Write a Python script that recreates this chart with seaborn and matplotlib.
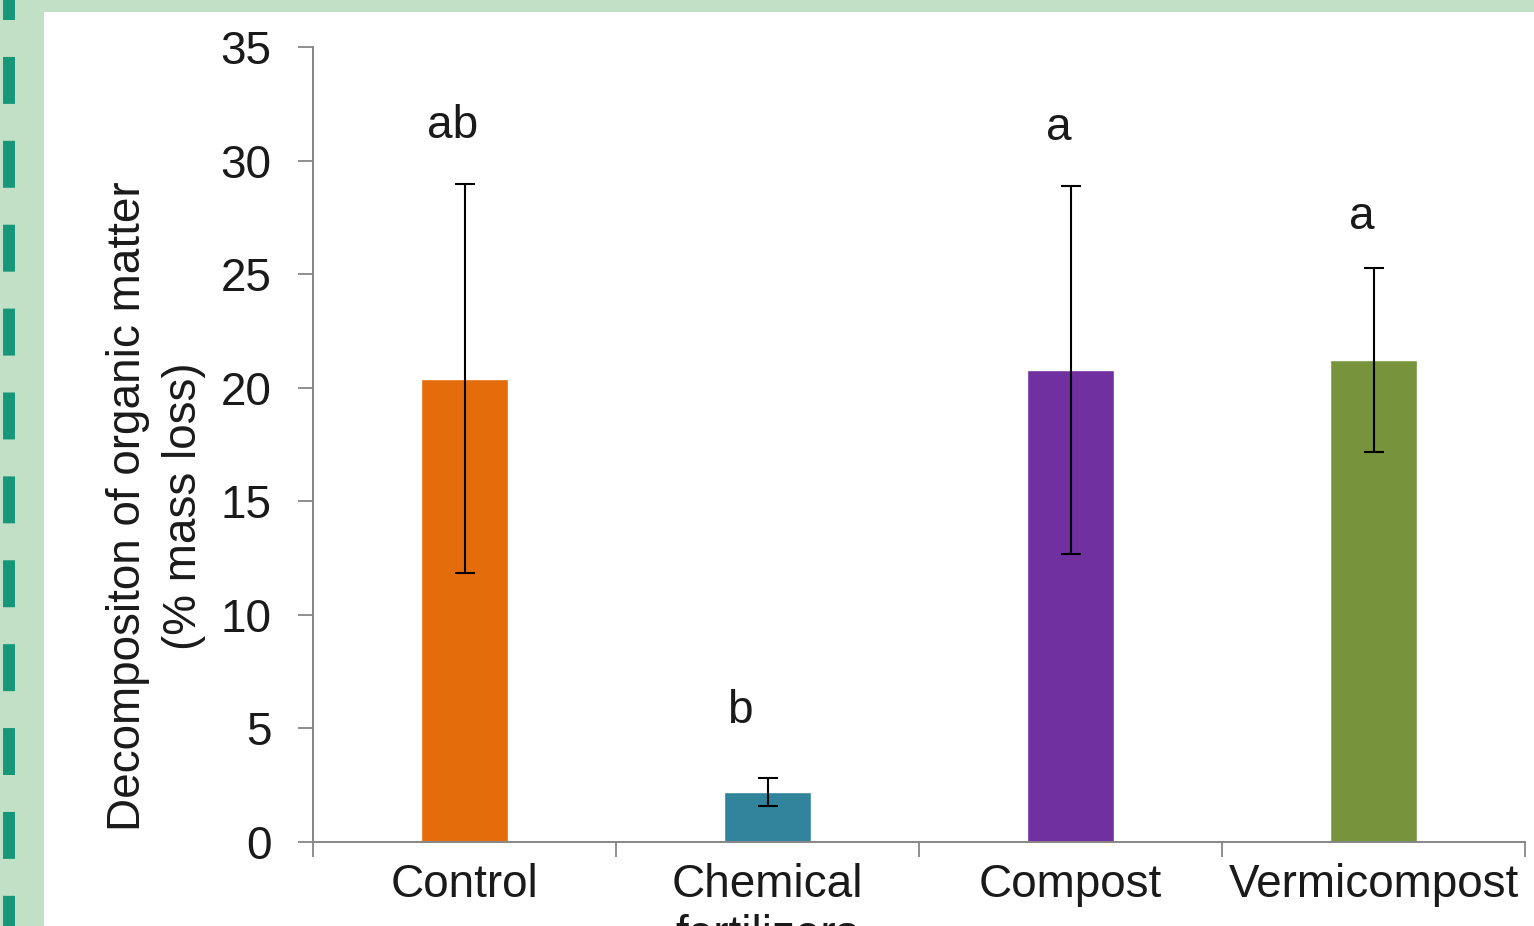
import numpy as np
import pandas as pd
import matplotlib
matplotlib.use("Agg")
import matplotlib.pyplot as plt
import seaborn as sns
from matplotlib.patches import Rectangle
from matplotlib.lines import Line2D

# данные
treatments = ["Control", "Chemical\nfertilizers", "Compost", "Vermicompost"]
mass_loss = [20.4, 2.2, 20.8, 21.2]
errors = [8.55, 0.6, 8.1, 4.05]
letters = ["ab", "b", "a", "a"]
letter_y = [31.0, 5.25, 30.9, 27.0]
letter_dx = [-0.04, -0.09, -0.04, -0.04]
bar_colors = ["#e46c0a", "#31849b", "#7030a0", "#77933c"]

df = pd.DataFrame({"treatment": treatments, "loss": mass_loss})

sns.set_theme(style="white")
plt.rcParams["font.family"] = ["Liberation Sans", "DejaVu Sans"]
plt.rcParams["lines.scale_dashes"] = False
FS = 33

W, H = 1534, 926
fig = plt.figure(figsize=(W / 100, H / 100), dpi=100)
fig.patch.set_facecolor("#c2e0c5")

# белая панель слайда и пунктир слева
fig.patches.append(Rectangle((44 / W, 0), 1 - 44 / W, (H - 12) / H,
                             transform=fig.transFigure, facecolor="white",
                             edgecolor="none", zorder=-10))
fig.lines.append(Line2D([9 / W, 9 / W], [1, 0], transform=fig.transFigure,
                        color="#16977a", linewidth=8.6,
                        linestyle=(19.4, (33.8, 26.6)), solid_capstyle="butt",
                        dash_capstyle="butt", zorder=-5))

ax = fig.add_axes([313 / W, 1 - 842 / H, (1525 - 313) / W, (842 - 47) / H])
ax.set_facecolor("none")

sns.barplot(data=df, x="treatment", y="loss", hue="treatment",
            palette=bar_colors, legend=False, width=0.29, saturation=1,
            ax=ax, zorder=2)
ax.errorbar(range(len(treatments)), mass_loss, yerr=errors, fmt="none",
            ecolor="black", elinewidth=1.5, capsize=7, capthick=1.5, zorder=3)

for i, (lab, yy, dx) in enumerate(zip(letters, letter_y, letter_dx)):
    ax.text(i + dx, yy, lab, ha="center", va="baseline", fontsize=FS,
            color="#1a1a1a")

ax.set_xlim(-0.5, 3.5)
ax.set_ylim(0, 35)
ax.set_yticks(np.arange(0, 36, 5))
ax.tick_params(axis="y", direction="out", length=11, width=1.3,
               color="#868686", labelsize=FS, pad=19, labelcolor="#1a1a1a",
               left=True)
ax.set_xticks(range(len(treatments)))
ax.set_xticklabels(treatments)
ax.set_xticks(np.arange(-0.5, 4, 1), minor=True)
ax.tick_params(axis="x", which="major", length=0, labelsize=FS, pad=15,
               labelcolor="#1a1a1a")
ax.tick_params(axis="x", which="minor", direction="out", length=11,
               width=1.3, color="#868686", bottom=True)

for side in ["top", "right"]:
    ax.spines[side].set_visible(False)
for side in ["left", "bottom"]:
    ax.spines[side].set_color("#868686")
    ax.spines[side].set_linewidth(1.4)

ax.set_xlabel("")
ax.set_ylabel("Decompositon of organic matter\n(% mass loss)", fontsize=FS,
              linespacing=1.35, color="#1a1a1a")
ax.yaxis.set_label_coords(-0.088, 0.423)

fig.savefig("out.png", dpi=100, facecolor=fig.get_facecolor())
